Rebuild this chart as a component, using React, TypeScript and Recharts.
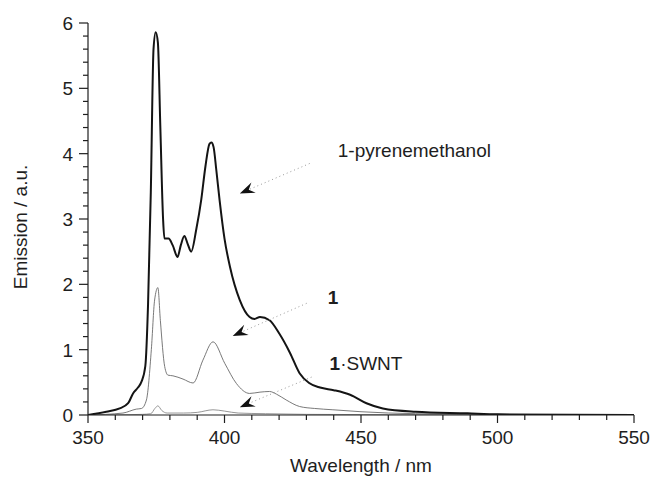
import { Line, LineChart, ReferenceDot, ReferenceLine, XAxis, YAxis } from 'recharts'

// emission spectra (wavelength in nm, emission in a.u.)
const pyreneX = [350, 356.7, 361.6, 364.7, 366.5, 368.3, 369.6, 371, 372, 373, 374, 374.8, 375.6, 376.5, 377.5, 378, 379.5, 381, 382.8, 384, 385.3, 386.5, 387.8, 389.7, 391.5, 393, 394.5, 395.2, 396, 397, 398.2, 400, 402, 405.6, 409.2, 411, 413, 416.5, 420, 424, 427.5, 431, 435, 440, 446, 452, 458, 470, 489, 500, 550]
const pyreneY = [0, 0.05, 0.1, 0.18, 0.33, 0.42, 0.51, 0.75, 1.7, 3.4, 5.6, 5.86, 5.7, 4.4, 3.0, 2.7, 2.7, 2.6, 2.42, 2.6, 2.74, 2.62, 2.5, 2.85, 3.3, 3.8, 4.15, 4.17, 4.1, 3.75, 3.29, 2.7, 2.27, 1.76, 1.5, 1.47, 1.5, 1.45, 1.25, 0.95, 0.64, 0.49, 0.42, 0.38, 0.31, 0.18, 0.1, 0.05, 0.025, 0.01, 0]

const compoundX = [350, 362.8, 367.7, 369.6, 371.4, 373.2, 374.4, 375.6, 376.5, 378.1, 379.3, 381.1, 384.8, 388.5, 392.1, 395.8, 400.1, 404.4, 409.2, 413, 416.5, 419, 422.6, 427.5, 433, 439.7, 450, 470, 500, 550]
const compoundY = [0, 0.03, 0.09, 0.1, 0.23, 1.0, 1.76, 1.95, 1.45, 0.74, 0.61, 0.6, 0.55, 0.49, 0.84, 1.12, 0.79, 0.48, 0.33, 0.35, 0.36, 0.32, 0.23, 0.13, 0.1, 0.08, 0.05, 0.02, 0.01, 0]

const swntX = [350, 365, 370, 373, 374.5, 375.6, 377, 379, 385, 390, 395.8, 400, 405, 415, 430, 460, 550]
const swntY = [0, 0.005, 0.01, 0.02, 0.1, 0.14, 0.07, 0.03, 0.03, 0.04, 0.08, 0.06, 0.03, 0.02, 0.01, 0.005, 0]

const xMajor = [350, 400, 450, 500, 550]
const xTicks = [350, 360, 370, 380, 390, 400, 410, 420, 430, 440, 450, 460, 470, 480, 490, 500, 510, 520, 530, 540, 550]
const yMajor = [0, 1, 2, 3, 4, 5, 6]
const yTicks = [0, 0.2, 0.4, 0.6, 0.8, 1, 1.2, 1.4, 1.6, 1.8, 2, 2.2, 2.4, 2.6, 2.8, 3, 3.2, 3.4, 3.6, 3.8, 4, 4.2, 4.4, 4.6, 4.8, 5, 5.2, 5.4, 5.6, 5.8, 6]

// annotation arrows: [from label, to curve] in data units
const arrows = [
  { from: { x: 431.2, y: 3.85 }, to: { x: 405.6, y: 3.39 } },
  { from: { x: 430.1, y: 1.71 }, to: { x: 403.0, y: 1.21 } },
  { from: { x: 431.9, y: 0.58 }, to: { x: 405.6, y: 0.12 } },
]

const zip = (xs: number[], ys: number[]) => xs.map((x, i) => ({ x, y: ys[i] }))
const pyrene = zip(pyreneX, pyreneY)
const compound = zip(compoundX, compoundY)
const swnt = zip(swntX, swntY)

const FONT = 'Liberation Sans, Arial, Helvetica, sans-serif'
const INK = '#1e1e1e'

const isMajor = (v: number, majors: number[]) => majors.some((m) => Math.abs(m - v) < 1e-6)

function XTick(props: any) {
  const { x, y, payload } = props
  const major = isMajor(payload.value, xMajor)
  return (
    <g>
      <line x1={x} y1={y} x2={x} y2={y + (major ? 8 : 5)} stroke={INK} strokeWidth={1.2} />
      {major && (
        <text x={x} y={y + 29} textAnchor="middle" fontSize={19} fontFamily={FONT} fill={INK}>
          {payload.value}
        </text>
      )}
    </g>
  )
}

function YTick(props: any) {
  const { x, y, payload } = props
  const major = isMajor(payload.value, yMajor)
  return (
    <g>
      <line x1={x} y1={y} x2={x - (major ? 9 : 5)} y2={y} stroke={INK} strokeWidth={1.2} />
      {major && (
        <text x={x - 15} y={y} dy="0.36em" textAnchor="end" fontSize={19} fontFamily={FONT} fill={INK}>
          {Math.round(payload.value)}
        </text>
      )}
    </g>
  )
}

function Arrow(props: any) {
  const { x1, y1, x2, y2 } = props
  const dx = x2 - x1
  const dy = y2 - y1
  const len = Math.hypot(dx, dy) || 1
  const ux = dx / len
  const uy = dy / len
  const nx = -uy
  const ny = ux
  const L = 15
  const W = 5.5
  const bx = x2 - L * ux
  const by = y2 - L * uy
  const pts = [
    [x2, y2],
    [bx + W * nx, by + W * ny],
    [x2 - 0.65 * L * ux, y2 - 0.65 * L * uy],
    [bx - W * nx, by - W * ny],
  ]
  return (
    <g>
      <line x1={x1} y1={y1} x2={x2 - 0.6 * L * ux} y2={y2 - 0.6 * L * uy} stroke="#9a9a9a" strokeWidth={1} strokeDasharray="1 3" />
      <polygon points={pts.map((p) => p.join(',')).join(' ')} fill="#111" />
    </g>
  )
}

const textLabel = (content: React.ReactNode) => (props: any) => (
  <text x={props.cx} y={props.cy} dy="0.36em" fontSize={19} fontFamily={FONT} fill={INK}>
    {content}
  </text>
)

export default function App() {
  return (
    <div style={{ position: 'absolute', left: 0, top: 0, background: '#fff' }}>
      <LineChart width={651} height={477} margin={{ top: 23, right: 17, left: 0, bottom: 0 }}>
        <XAxis
          type="number"
          dataKey="x"
          domain={[350, 550]}
          ticks={xTicks}
          interval={0}
          height={62}
          tickLine={false}
          tickSize={0}
          tickMargin={0}
          tick={<XTick />}
          stroke={INK}
          strokeWidth={1.2}
          allowDataOverflow
          label={{
            content: (p: any) => (
              <text x={p.viewBox.x + p.viewBox.width / 2} y={472} textAnchor="middle" fontSize={19} fontFamily={FONT} fill={INK}>
                Wavelength / nm
              </text>
            ),
          }}
        />
        <YAxis
          type="number"
          dataKey="y"
          domain={[0, 6]}
          ticks={yTicks}
          interval={0}
          width={88}
          tickLine={false}
          tickSize={0}
          tickMargin={0}
          tick={<YTick />}
          stroke={INK}
          strokeWidth={1.2}
          allowDataOverflow
          label={{
            content: (p: any) => {
              const cy = p.viewBox.y + p.viewBox.height / 2 + 8
              return (
                <text x={20} y={cy} dy="0.36em" textAnchor="middle" transform={`rotate(-90 20 ${cy})`} fontSize={19} fontFamily={FONT} fill={INK}>
                  Emission / a.u.
                </text>
              )
            },
          }}
        />
        <Line data={swnt} dataKey="y" type="monotone" stroke="#8a8a8a" strokeWidth={0.9} dot={false} isAnimationActive={false} />
        <Line data={compound} dataKey="y" type="monotone" stroke="#6a6a6a" strokeWidth={0.9} dot={false} isAnimationActive={false} />
        <Line data={pyrene} dataKey="y" type="monotone" stroke="#141414" strokeWidth={2} dot={false} isAnimationActive={false} />
        {arrows.map((a, i) => (
          <ReferenceLine key={i} segment={[a.from, a.to]} shape={<Arrow />} />
        ))}
        <ReferenceDot x={441.5} y={4.05} r={0} shape={textLabel('1-pyrenemethanol')} />
        <ReferenceDot x={437.8} y={1.8} r={0} shape={textLabel(<tspan fontWeight="bold">1</tspan>)} />
        <ReferenceDot
          x={438.5}
          y={0.8}
          r={0}
          shape={textLabel(
            <>
              <tspan fontWeight="bold">1</tspan>
              <tspan>·SWNT</tspan>
            </>
          )}
        />
      </LineChart>
    </div>
  )
}
